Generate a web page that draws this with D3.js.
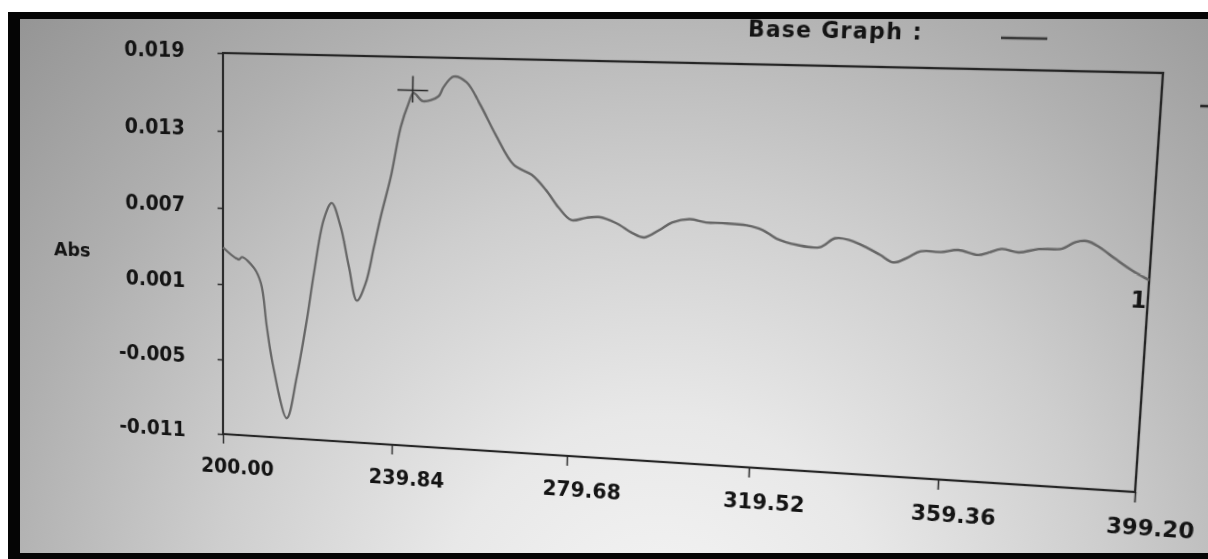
<!DOCTYPE html>
<html>
<head>
<meta charset="utf-8">
<script src="https://cdn.jsdelivr.net/npm/d3@7"></script>
<style>
  html, body { margin: 0; padding: 0; background: #fff; }
  #stage { position: relative; width: 1208px; height: 559px; overflow: hidden; }
  #stage svg { position: absolute; left: 0; top: 0; }
  #chart { transform-origin: 0 0; }
</style>
</head>
<body>
<div id="stage"></div>
<script>
// spectrum (nm, Abs)
var wavelength = [200.0, 203.8, 204.5, 207.3, 209.0, 210.4, 212.1, 215.2, 217.5, 219.8,
  221.4, 223.6, 225.4, 227.5, 229.5, 231.4, 233.4, 235.2, 236.7, 238.9,
  241.0, 242.7, 243.8, 245.9, 249.4, 250.5, 252.7, 255.6, 258.8, 262.3,
  266.4, 270.4, 273.6, 276.5, 279.3, 282.5, 285.4, 289.1, 292.7, 295.3,
  298.5, 301.2, 304.9, 308.5, 312.0, 317.1, 320.5, 323.5, 327.8, 332.6,
  335.7, 338.8, 342.4, 345.2, 348.0, 350.8, 353.4, 357.5, 361.0, 365.1,
  367.1, 369.7, 373.2, 377.1, 381.8, 384.3, 386.6, 389.1, 392.4, 395.9, 399.2];
var absorbance = [0.0039, 0.0030, 0.0032, 0.0024, 0.0012, -0.0022, -0.0056, -0.0094, -0.0061, -0.0015,
  0.0022, 0.0064, 0.0077, 0.0059, 0.0028, 0.0002, 0.0016, 0.0044, 0.0068, 0.0099,
  0.0137, 0.0155, 0.0163, 0.0157, 0.0161, 0.0168, 0.0176, 0.0172, 0.0155, 0.0133,
  0.0111, 0.0104, 0.0093, 0.0080, 0.0071, 0.0073, 0.0074, 0.0070, 0.0063, 0.0060,
  0.0066, 0.0072, 0.0075, 0.0073, 0.0073, 0.0072, 0.0069, 0.0063, 0.0059, 0.0058,
  0.0065, 0.0064, 0.0059, 0.0054, 0.0049, 0.0053, 0.0058, 0.0058, 0.0060, 0.0057,
  0.0059, 0.0062, 0.0060, 0.0063, 0.0064, 0.0069, 0.0070, 0.0066, 0.0058, 0.0050, 0.0044];

var xTicks = [200.00, 239.84, 279.68, 319.52, 359.36, 399.20];
var yTicks = [-0.011, -0.005, 0.001, 0.007, 0.013, 0.019];
var cursorPoint = [243.6, 0.0165];
var seriesLabel = "1";
var yLabel = "Abs";
var legendTitle = "Base Graph :";

var pageW = 1208, pageH = 559;
var font = "'DejaVu Sans', Verdana, sans-serif";
var ink = "#141414";
var stage = d3.select("#stage");

// screen background (lit in the lower middle, darker at the edges)
var bg = stage.append("svg").attr("width", pageW).attr("height", pageH);
var glow = bg.append("defs").append("radialGradient")
  .attr("id", "glow")
  .attr("gradientUnits", "userSpaceOnUse")
  .attr("cx", 660).attr("cy", 640).attr("r", 900);
[[0, "#f5f5f5"], [0.25, "#e8e8e8"], [0.5, "#cecece"], [0.75, "#afafaf"], [1, "#949494"]]
  .forEach(function(s) {
    glow.append("stop").attr("offset", s[0]).attr("stop-color", s[1]);
  });
bg.append("rect").attr("width", pageW).attr("height", pageH).attr("fill", "url(#glow)");

// the chart is drawn flat, then tilted to the camera angle of the photo
var width = 925, height = 390;
var ox = 240, oy = 70;

var svg = stage.append("svg")
  .attr("id", "chart")
  .attr("width", 1260)
  .attr("height", 540);

var chartGroup = svg.append("g")
  .attr("transform", `translate(${ox}, ${oy})`);

var xScale = d3.scaleLinear().domain([200, 399.2]).range([0, width]);
var yScale = d3.scaleLinear().domain([-0.011, 0.019]).range([height, 0]);

// axes
var yAxis = d3.axisLeft(yScale)
  .tickValues(yTicks)
  .tickSize(6)
  .tickSizeOuter(0)
  .tickFormat(d => d.toFixed(3));

var xAxis = d3.axisBottom(xScale)
  .tickValues(xTicks)
  .tickSize(10)
  .tickSizeOuter(0)
  .tickFormat(d => d.toFixed(2));

var yG = chartGroup.append("g").call(yAxis);
yG.select(".domain").remove();
yG.selectAll(".tick line").attr("stroke", "#333").attr("stroke-width", 1.6);
yG.selectAll(".tick text")
  .attr("x", -42)
  .attr("dy", 4)
  .attr("fill", ink)
  .attr("font-family", font)
  .attr("font-weight", "bold")
  .attr("font-size", 21);

var xG = chartGroup.append("g")
  .attr("transform", `translate(0, ${height})`)
  .call(xAxis);
xG.select(".domain").remove();
xG.selectAll(".tick line").attr("stroke", "#333").attr("stroke-width", 1.6);
xG.selectAll(".tick text")
  .attr("x", -25)
  .attr("y", 41)
  .attr("dy", 0)
  .attr("text-anchor", "start")
  .attr("fill", ink)
  .attr("font-family", font)
  .attr("font-weight", "bold")
  .attr("font-size", 21);

// plot frame
chartGroup.append("rect")
  .attr("width", width)
  .attr("height", height)
  .attr("fill", "none")
  .attr("stroke", "#262626")
  .attr("stroke-width", 2.2);

// the spectrum
var line = d3.line()
  .x(d => xScale(d[0]))
  .y(d => yScale(d[1]))
  .curve(d3.curveCatmullRom.alpha(0.5));

var pts = d3.zip(wavelength, absorbance);

chartGroup.append("path")
  .datum(pts)
  .attr("d", line)
  .attr("fill", "none")
  .attr("stroke", "#666")
  .attr("stroke-width", 2.4)
  .attr("stroke-linejoin", "round");

// cursor cross
var cur = chartGroup.append("g")
  .attr("transform", `translate(${xScale(cursorPoint[0])}, ${yScale(cursorPoint[1])})`)
  .attr("stroke", "#2a2a2a")
  .attr("stroke-width", 1.6);
cur.append("line").attr("x1", -16).attr("x2", 16);
cur.append("line").attr("y1", -14).attr("y2", 12);

// series number at the end of the trace
var last = pts[pts.length - 1];
chartGroup.append("text")
  .attr("x", xScale(last[0]) - 1)
  .attr("y", yScale(last[1]) + 26)
  .attr("text-anchor", "end")
  .attr("fill", ink)
  .attr("font-family", font)
  .attr("font-weight", "bold")
  .attr("font-size", 21)
  .text(seriesLabel);

// y axis title
chartGroup.append("text")
  .attr("x", -190)
  .attr("y", height * 0.543)
  .attr("fill", ink)
  .attr("font-family", font)
  .attr("font-weight", "bold")
  .attr("font-size", 20)
  .text(yLabel);

// legend
chartGroup.append("text")
  .attr("x", 538)
  .attr("y", -26)
  .attr("fill", ink)
  .attr("font-family", font)
  .attr("font-weight", "bold")
  .attr("font-size", 21)
  .style("letter-spacing", "1.2px")
  .text(legendTitle);

chartGroup.append("line")
  .attr("x1", 777).attr("x2", 819)
  .attr("y1", -29).attr("y2", -29)
  .attr("stroke", "#3a3a3a")
  .attr("stroke-width", 2.5);

chartGroup.append("line")
  .attr("x1", 960).attr("x2", 990)
  .attr("y1", 29).attr("y2", 29)
  .attr("stroke", "#2a2a2a")
  .attr("stroke-width", 2.5);

// perspective: map the flat plot box onto the corners seen in the photo
function squareToQuad(q) {
  var x0 = q[0][0], y0 = q[0][1], x1 = q[1][0], y1 = q[1][1];
  var x2 = q[2][0], y2 = q[2][1], x3 = q[3][0], y3 = q[3][1];
  var dx1 = x1 - x2, dx2 = x3 - x2, dx3 = x0 - x1 + x2 - x3;
  var dy1 = y1 - y2, dy2 = y3 - y2, dy3 = y0 - y1 + y2 - y3;
  var den = dx1 * dy2 - dx2 * dy1;
  var g = (dx3 * dy2 - dx2 * dy3) / den;
  var h = (dx1 * dy3 - dx3 * dy1) / den;
  return {
    a: x1 - x0 + g * x1, b: x3 - x0 + h * x3, c: x0,
    d: y1 - y0 + g * y1, e: y3 - y0 + h * y3, f: y0,
    g: g, h: h
  };
}

var quad = [[223, 53], [1163, 73], [1135, 492], [223, 434]];
var s = squareToQuad(quad);
var m00 = s.a / width, m01 = s.b / height, m02 = s.c - s.a * ox / width - s.b * oy / height;
var m10 = s.d / width, m11 = s.e / height, m12 = s.f - s.d * ox / width - s.e * oy / height;
var m20 = s.g / width, m21 = s.h / height, m22 = 1 - s.g * ox / width - s.h * oy / height;

svg.style("transform",
  `matrix3d(${m00},${m10},0,${m20},${m01},${m11},0,${m21},0,0,1,0,${m02},${m12},0,${m22})`);

// monitor bezel and the white edge of the photo
var bezel = stage.append("svg").attr("width", pageW).attr("height", pageH);
bezel.append("path")
  .attr("d", `M8,12H${pageW}V${pageH}H8Z M20,19H${pageW}V553H20Z`)
  .attr("fill", "#050505")
  .attr("fill-rule", "evenodd");
bezel.append("rect").attr("width", pageW).attr("height", 12).attr("fill", "#fff");
bezel.append("rect").attr("width", 8).attr("height", pageH).attr("fill", "#fff");
</script>
</body>
</html>
